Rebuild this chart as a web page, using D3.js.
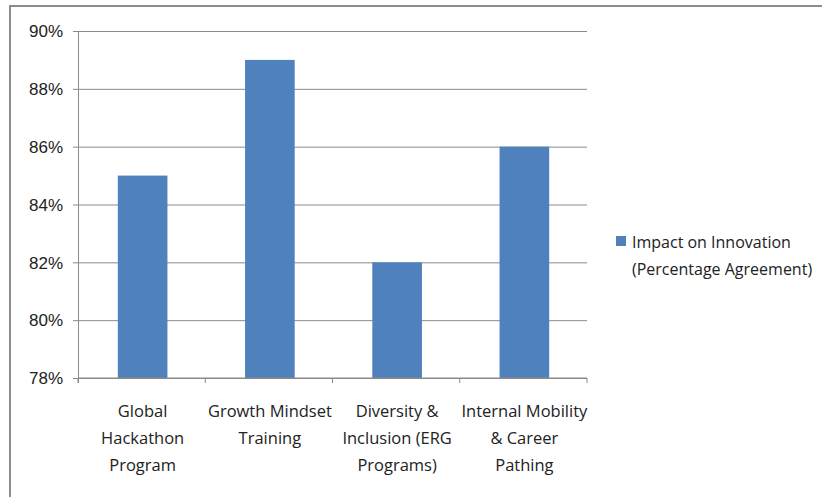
<!DOCTYPE html>
<html>
<head>
<meta charset="utf-8">
<script src="https://cdn.jsdelivr.net/npm/d3@7"></script>
<style>
  body { margin: 0; background: #fff; }
  svg { display: block; font-family: "Open Sans", sans-serif; }
</style>
</head>
<body>
<svg width="822" height="497"></svg>
<script>
const categories = [
  ["Global", "Hackathon", "Program"],
  ["Growth Mindset", "Training"],
  ["Diversity &", "Inclusion (ERG", "Programs)"],
  ["Internal Mobility", "& Career", "Pathing"]
];
const values = [0.85, 0.89, 0.82, 0.86];
const yTicks = [0.78, 0.80, 0.82, 0.84, 0.86, 0.88, 0.90];
const seriesName = ["Impact on Innovation", "(Percentage Agreement)"];

const svg = d3.select("svg");
const margin = { left: 78, right: 587, top: 31, bottom: 378 };

// frame
svg.append("rect")
  .attr("x", 10).attr("y", 6)
  .attr("width", 830).attr("height", 520)
  .attr("fill", "none").attr("stroke", "#8c8c8c").attr("stroke-width", 2);

const x = d3.scaleBand()
  .domain(d3.range(categories.length))
  .range([margin.left, margin.right])
  .paddingInner(0.61).paddingOuter(0.305);
const band = d3.scaleBand().domain(d3.range(categories.length)).range([margin.left, margin.right]);

const y = d3.scaleLinear().domain([0.78, 0.90]).range([margin.bottom, margin.top]);

// gridlines + y axis
const yAxis = svg.append("g")
  .attr("transform", `translate(${margin.left},0)`)
  .call(d3.axisLeft(y).tickValues(yTicks).tickFormat(d3.format(".0%"))
    .tickSize(-(margin.right - margin.left)).tickPadding(15));
yAxis.select(".domain").remove();
yAxis.selectAll(".tick line")
  .attr("x1", -5)
  .attr("stroke", "#8a8a8a");
yAxis.selectAll(".tick text")
  .attr("fill", "#222").style("font-size", "17px")
  .attr("dy", "0.34em");

// bars
svg.append("g").selectAll("rect")
  .data(values)
  .join("rect")
  .attr("x", (d, i) => x(i) + 1)
  .attr("width", x.bandwidth())
  .attr("y", d => y(d))
  .attr("height", d => y(0.78) - y(d))
  .attr("fill", "#4f81bd");

// axis lines
svg.append("line")
  .attr("x1", margin.left + 0.5).attr("x2", margin.left + 0.5)
  .attr("y1", margin.top).attr("y2", margin.bottom + 5)
  .attr("stroke", "#8a8a8a");
const xAxis = svg.append("g")
  .attr("transform", `translate(0,${margin.bottom})`);
xAxis.append("line")
  .attr("x1", margin.left).attr("x2", margin.right)
  .attr("stroke", "#8a8a8a");
xAxis.selectAll("line.tk")
  .data(d3.range(categories.length + 1))
  .join("line").attr("class", "tk")
  .attr("x1", i => i < categories.length ? band(i) : margin.right)
  .attr("x2", i => i < categories.length ? band(i) : margin.right)
  .attr("y1", 0).attr("y2", 5)
  .attr("stroke", "#8a8a8a");

// category labels
const labels = svg.append("g").selectAll("text")
  .data(categories)
  .join("text")
  .attr("x", (d, i) => band(i) + band.bandwidth() / 2 + 1)
  .attr("y", 417)
  .attr("text-anchor", "middle")
  .attr("fill", "#222")
  .style("font-size", "16.5px");
labels.selectAll("tspan")
  .data(d => d)
  .join("tspan")
  .attr("x", function() { return this.parentNode.getAttribute("x"); })
  .attr("dy", (d, i) => i ? 27 : 0)
  .text(d => d);

// legend
const legend = svg.append("g");
legend.append("rect")
  .attr("x", 616).attr("y", 236)
  .attr("width", 10).attr("height", 10)
  .attr("fill", "#4f81bd");
legend.append("text")
  .attr("y", 248)
  .attr("fill", "#222")
  .style("font-size", "16px")
  .selectAll("tspan")
  .data(seriesName)
  .join("tspan")
  .attr("x", 632)
  .attr("dy", (d, i) => i ? 27 : 0)
  .text(d => d);
</script>
</body>
</html>
